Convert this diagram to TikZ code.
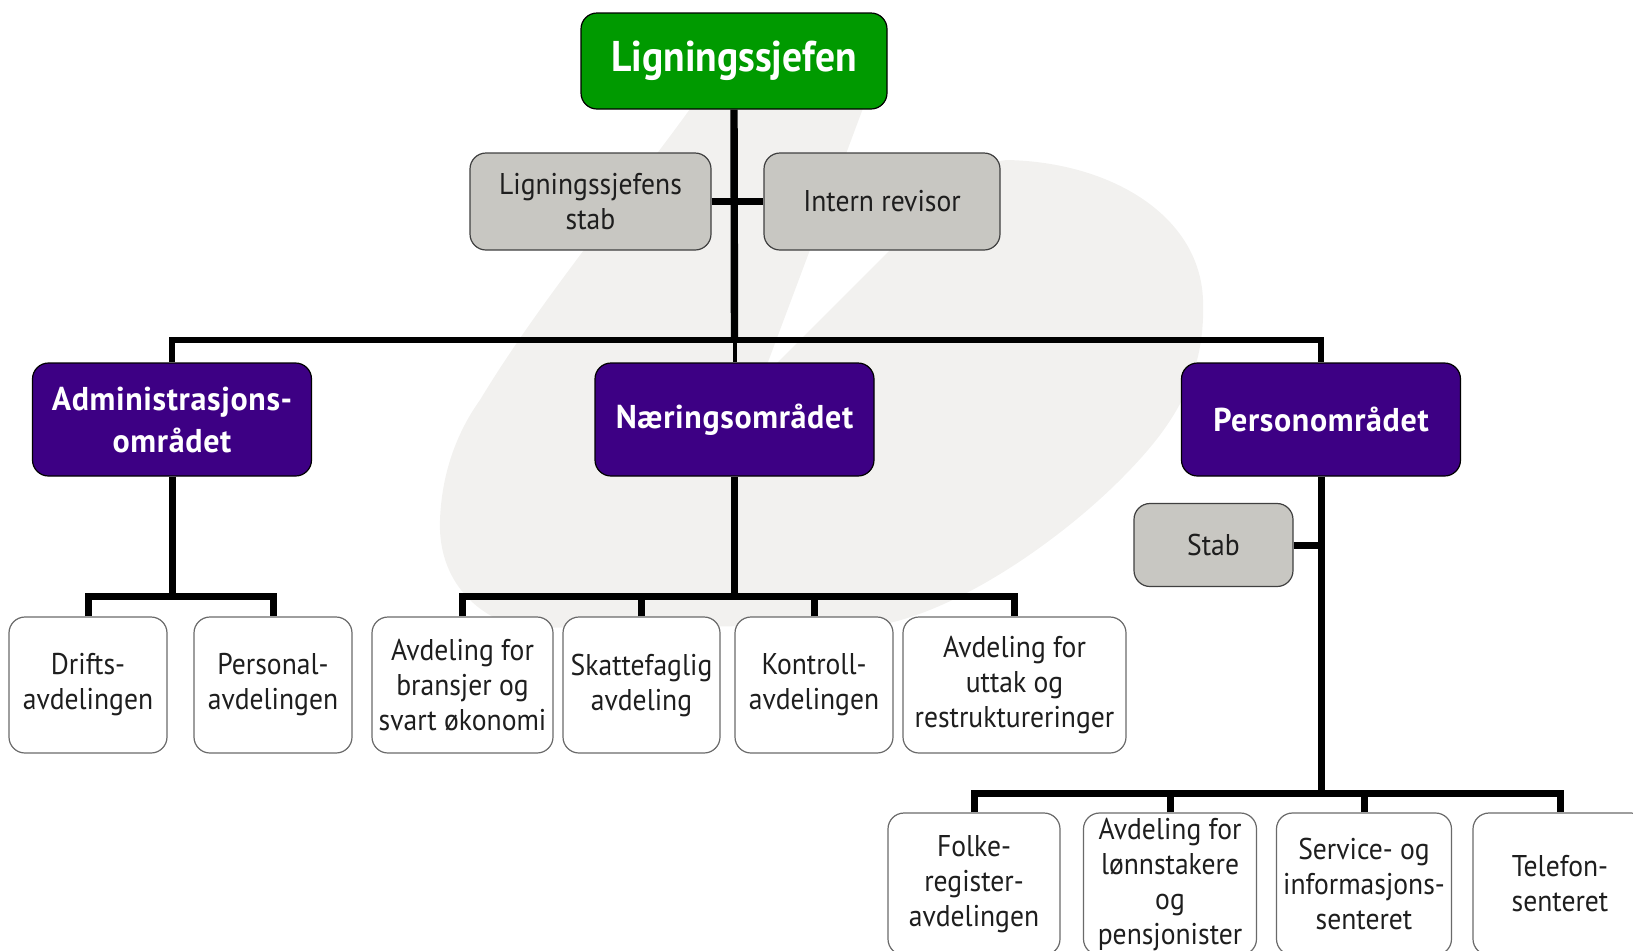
\documentclass[tikz,border=0pt]{standalone}
\usepackage{fontspec}
\setmainfont{PT Sans}[FakeStretch=0.92]
\newfontfamily\headfont{PT Sans}[FakeStretch=0.92]
\newfontfamily\areafont{PT Sans}[FakeStretch=0.97, LetterSpace=2]

\definecolor{chiefgreen}{HTML}{009A00}
\definecolor{areapurple}{HTML}{3D0084}
\definecolor{staffgray}{HTML}{C8C7C2}
\definecolor{markgray}{HTML}{F2F1EF}
\definecolor{edgegray}{HTML}{6A6A6A}
\definecolor{inkgray}{HTML}{1E1E1E}

\tikzset{
  box/.style={rounded corners=8pt, draw=edgegray, line width=0.6pt,
    align=center, inner sep=0pt, text=inkgray,
    font=\fontsize{15}{17.5}\selectfont},
  dept/.style={box, fill=white},
  staff/.style={box, fill=staffgray, draw=black!75},
  area/.style={box, fill=areapurple, draw=black, text=white,
    minimum width=139.5pt, minimum height=56.5pt,
    font=\areafont\bfseries\fontsize{16.5}{21}\selectfont},
  chief/.style={box, fill=chiefgreen, draw=black, text=white,
    font=\headfont\bfseries\fontsize{21.5}{25}\selectfont},
  link/.style={line width=3.5pt, line join=miter, draw=black},
  buslink/.style={line width=3pt, line join=miter, draw=black},
  thinlink/.style={line width=2pt, draw=black},
}

\begin{document}
\begin{tikzpicture}[x=0.5pt, y=-0.5pt]
\useasboundingbox (0,0) rectangle (1633,950);
\clip (0,0) rectangle (1633,950);

% faint emblem in the background
\fill[markgray] (700,95) -- (868,95) -- (762,378) -- (930,210)
  .. controls (955,180) and (975,163) .. (1007,160)
  .. controls (1110,162) and (1200,215) .. (1203,300)
  .. controls (1206,380) and (1170,430) .. (1120,480)
  .. controls (1060,540) and (960,610) .. (880,625)
  -- (520,628)
  .. controls (465,612) and (438,570) .. (440,520)
  .. controls (442,465) and (462,425) .. (480,400)
  .. controls (540,300) and (640,180) .. (700,95)
  -- cycle;

% top level
\node[chief, minimum width=153pt, minimum height=48pt] (chief) at (734,61) {Ligningssjefen};
\node[staff, minimum width=120.5pt, minimum height=48.5pt] (lstab) at (590.5,201.5) {Ligningssjefens\\stab};
\node[staff, minimum width=118pt, minimum height=48.5pt] (irev) at (882,201.5) {Intern revisor};

% areas
\node[area] (adm) at (172,419.5) {Administrasjons-\\området};
\node[area] (naer) at (734.5,419.5) {Næringsområdet};
\node[area] (pers) at (1321,419.5) {Personområdet};
\node[staff, minimum width=79.5pt, minimum height=41.5pt] (pstab) at (1213.5,545) {Stab};

% administration departments
\node[dept, minimum width=79pt, minimum height=68pt] (drift) at (88,685) {Drifts-\\avdelingen};
\node[dept, minimum width=79pt, minimum height=68pt] (personal) at (273,685) {Personal-\\avdelingen};

% business departments
\node[dept, minimum width=90.5pt, minimum height=68pt] (bransj) at (462.5,685) {Avdeling for\\bransjer og\\svart økonomi};
\node[dept, minimum width=78.5pt, minimum height=68pt] (skatt) at (641.5,685) {Skattefaglig\\avdeling};
\node[dept, minimum width=79pt, minimum height=68pt] (kontr) at (814,685) {Kontroll-\\avdelingen};
\node[dept, minimum width=111.5pt, minimum height=68pt] (uttak) at (1014.5,685) {Avdeling for\\uttak og\\restruktureringer};

% personal taxation departments
\node[dept, minimum width=86pt, minimum height=71pt] (folke) at (974,884) {Folke-\\register-\\avdelingen};
\node[dept, minimum width=86.5pt, minimum height=71pt] (lonn) at (1170,884) {Avdeling for\\lønnstakere\\og\\pensjonister};
\node[dept, minimum width=87.5pt, minimum height=71pt] (serv) at (1364,884) {Service- og\\informasjons-\\senteret};
\node[dept, minimum width=87pt, minimum height=71pt] (tele) at (1560,884) {Telefon-\\senteret};

% junction points
\coordinate (topjoin) at (734.5,340);
\coordinate (admjoin) at (172,596);
\coordinate (naerjoin) at (734.5,596);
\coordinate (persjoin) at (1321,793);

% connectors
\draw[link, line width=3.7pt] (chief.south) -- (topjoin);
\draw[link] (lstab.east) -- (irev.west);
\draw[buslink] (adm.north) |- (topjoin) -| (pers.north);
\draw[thinlink] (topjoin) -- (naer.north);

\draw[link] (adm.south) -- (admjoin);
\draw[link] (drift.north) |- (admjoin) -| (personal.north);

\draw[link] (naer.south) -- (naerjoin);
\draw[link] (bransj.north) |- (naerjoin) -| (uttak.north);
\draw[link] (skatt.north) -- (skatt.north |- naerjoin);
\draw[link] (kontr.north) -- (kontr.north |- naerjoin);

\draw[link] (pers.south) -- (persjoin);
\draw[link] (pstab.east) -- (pstab.east -| persjoin);
\draw[link] (folke.north) |- (persjoin) -| (tele.north);
\draw[link] (lonn.north) -- (lonn.north |- persjoin);
\draw[link] (serv.north) -- (serv.north |- persjoin);
\end{tikzpicture}
\end{document}
